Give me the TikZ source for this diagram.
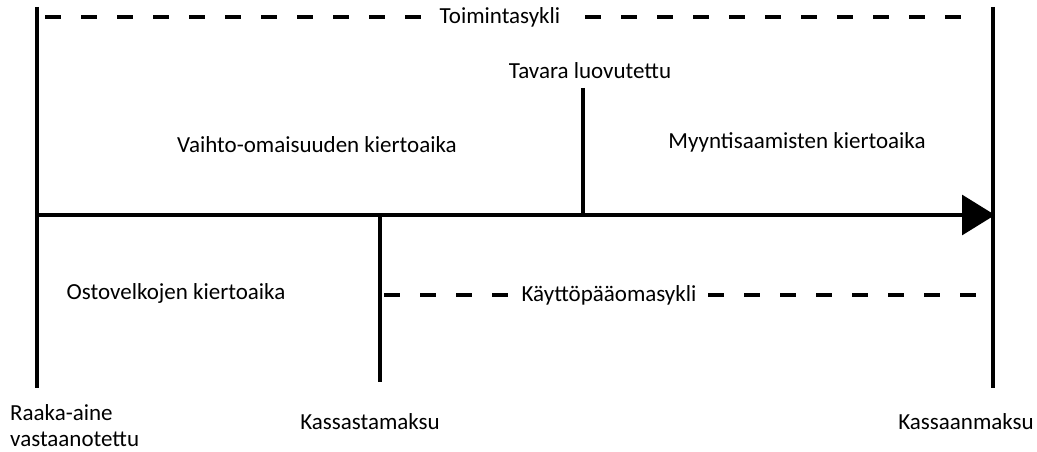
\documentclass[tikz,border=0pt]{standalone}
\usepackage{fontspec}
\setmainfont{Carlito}
\usetikzlibrary{arrows.meta}
\begin{document}
\begin{tikzpicture}[x=1pt,y=-1pt,
  solidline/.style={line width=3.2pt},
  dashline/.style={line width=3.2pt, dash pattern=on 16pt off 20pt},
  lbl/.style={font=\fontsize{23}{26}\selectfont, inner sep=3pt},
  gaplbl/.style={lbl, fill=white, inner xsep=5pt}]
\useasboundingbox (0,0) rectangle (1037,452);
% coordinates
\coordinate (Ltop) at (37,7);
\coordinate (Lbot) at (37,388);
\coordinate (Rtop) at (993,7);
\coordinate (Rbot) at (993,388);
\coordinate (Astart) at (37,215);
\coordinate (Aend) at (995,215);
\coordinate (Ttop) at (583,88);
\coordinate (Tbot) at (583,215);
\coordinate (Ktop) at (380,217);
\coordinate (Kbot) at (380,382);
\coordinate (D1s) at (45,17);
\coordinate (D1e) at (978,17);
\coordinate (D2s) at (384,295);
\coordinate (D2e) at (978,295);
% lines
\draw[solidline] (Ltop) -- (Lbot);
\draw[solidline] (Rtop) -- (Rbot);
\draw[solidline] (Ttop) -- (Tbot);
\draw[solidline] (Ktop) -- (Kbot);
\draw[solidline, -{Triangle[length=33pt,width=40pt]}] (Astart) -- (Aend);
\draw[dashline] (D1s) -- (D1e);
\draw[dashline] (D2s) -- (D2e);
% labels
\node[gaplbl] (toim) at (500,17) {Toimintasykli};
\node[gaplbl] (kayt) at (609,295) {Käyttöpääomasykli};
\node[lbl] (tav) at (590,71) {Tavara luovutettu};
\node[lbl] (vaih) at (317,145) {Vaihto-omaisuuden kiertoaika};
\node[lbl] (myyn) at (797,142) {Myyntisaamisten kiertoaika};
\node[lbl] (osto) at (176,293) {Ostovelkojen kiertoaika};
\node[lbl, align=left, anchor=north west, inner sep=0pt] (raaka) at (10,404) {Raaka-aine\\vastaanotettu};
\node[lbl] (kassa) at (370,422) {Kassastamaksu};
\node[lbl] (kassaan) at (966,422) {Kassaanmaksu};
\end{tikzpicture}
\end{document}
